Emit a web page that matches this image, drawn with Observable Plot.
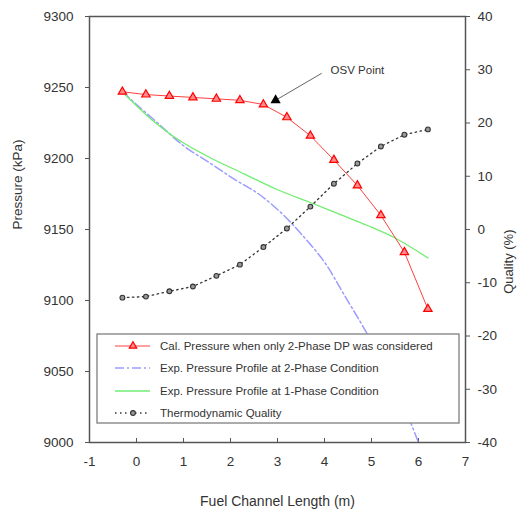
<!DOCTYPE html>
<html><head><meta charset="utf-8">
<script src="https://cdn.jsdelivr.net/npm/d3@7"></script>
<script src="https://cdn.jsdelivr.net/npm/@observablehq/plot@0.6"></script>
<style>
body{margin:0;background:#fff}
#chart{position:relative;width:517px;height:517px}
</style>
</head><body><div id="chart"></div>
<script>
const xTicks = [-1, 0, 1, 2, 3, 4, 5, 6, 7];
const pressureTicks = [9000, 9050, 9100, 9150, 9200, 9250, 9300];
const qualityTicks = [-40, -30, -20, -10, 0, 10, 20, 30, 40];

const calLength = [-0.3, 0.2, 0.7, 1.2, 1.7, 2.2, 2.7, 3.2, 3.7, 4.2, 4.7, 5.2, 5.7, 6.2];
const calPressure = [9247, 9245, 9244, 9243, 9242, 9241, 9238, 9229, 9216, 9199, 9181, 9160, 9134, 9094];
const qualityValues = [-12.8, -12.6, -11.6, -10.7, -8.7, -6.6, -3.3, 0.2, 4.3, 8.6, 12.4, 15.6, 17.8, 18.8];

const exp2Length = [-0.3, 0.0, 0.45, 1.0, 1.6, 2.1, 2.6, 3.1, 3.5, 4.0, 4.4, 4.9, 5.5, 6.0];
const exp2Pressure = [9247, 9238, 9225, 9209, 9196, 9185, 9175, 9161, 9147, 9127, 9105, 9077, 9040, 9000];

const exp1Length = [-0.3, 0.3, 0.9, 1.6, 2.3, 3.0, 3.7, 4.3, 4.9, 5.5, 6.2];
const exp1Pressure = [9247, 9228, 9213, 9200, 9189, 9178, 9169, 9161, 9153, 9144, 9130];

const osvPoint = {length: 2.96, pressure: 9241};
const osvLabel = {length: 4.13, pressure: 9262, text: "OSV Point"};
const osvLineStart = {length: 3.94, pressure: 9260};

const legendLabels = [
  "Cal. Pressure when only 2-Phase DP was considered",
  "Exp. Pressure Profile at 2-Phase Condition",
  "Exp. Pressure Profile at 1-Phase Condition",
  "Thermodynamic Quality"
];

// quality (%) axis [-40, 40] mapped onto pressure axis [9000, 9300]
const q2p = q => 9150 + q * 3.75;
const p2q = p => (p - 9150) / 3.75;

const calData = calLength.map((x, i) => ({x, y: calPressure[i]}));
const qualData = calLength.map((x, i) => ({x, y: q2p(qualityValues[i])}));
const exp2Data = exp2Length.map((x, i) => ({x, y: exp2Pressure[i]}));
const exp1Data = exp1Length.map((x, i) => ({x, y: exp1Pressure[i]}));

const FONT = "Liberation Sans, Arial, sans-serif";
const C_RED = "#ff4040", C_BLUE = "#9c9cff", C_GREEN = "#70ee70", C_TXT = "#333";

const plot = Plot.plot({
  width: 517, height: 517,
  marginLeft: 89, marginRight: 52, marginTop: 16, marginBottom: 75,
  style: {fontFamily: FONT, fontSize: "13.5px", color: C_TXT, background: "#fff"},
  x: {domain: [-1, 7]},
  y: {domain: [9000, 9300]},
  marks: [
    Plot.axisY(pressureTicks, {anchor: "left", tickSize: 4, tickPadding: 12, label: null, tickFormat: d => String(d), stroke: "#555", fontSize: 13.5}),
    Plot.axisY(qualityTicks.map(q2p), {anchor: "right", tickSize: 4, tickPadding: 8, label: null, tickFormat: p => String(Math.round(p2q(p))), stroke: "#555", fontSize: 13.5}),
    Plot.axisX(xTicks, {anchor: "bottom", tickSize: -4, tickPadding: 18, label: null, tickFormat: d => String(d), stroke: "#555", fontSize: 13.5}),
    Plot.text(["Pressure (kPa)"], {text: d => d, frameAnchor: "left", dx: -72, rotate: -90, fontSize: 13.5, fill: C_TXT}),
    Plot.text(["Quality (%)"], {text: d => d, frameAnchor: "right", dx: 43, rotate: -90, fontSize: 13, fill: C_TXT}),
    Plot.text(["Fuel Channel Length (m)"], {text: d => d, frameAnchor: "bottom", dy: 63, fontSize: 14, fill: C_TXT}),

    Plot.line(exp2Data, {x: "x", y: "y", curve: "catmull-rom", stroke: C_BLUE, strokeWidth: 1.5, strokeDasharray: "9,3,2,3"}),
    Plot.line(exp1Data, {x: "x", y: "y", curve: "catmull-rom", stroke: C_GREEN, strokeWidth: 1.3}),
    Plot.line(qualData, {x: "x", y: "y", stroke: "#333", strokeWidth: 1.3, strokeDasharray: "1.5,3.5"}),
    Plot.dot(qualData, {x: "x", y: "y", r: 2.4, fill: "#999", stroke: "#333", strokeWidth: 1.1}),
    Plot.line(calData, {x: "x", y: "y", stroke: C_RED, strokeWidth: 1}),
    Plot.dot(calData, {x: "x", y: "y", symbol: "triangle", r: 3.1, fill: "#ff8a8a", stroke: "#ff0000", strokeWidth: 1.2}),

    Plot.link([osvPoint], {x1: () => osvLineStart.length, y1: () => osvLineStart.pressure, x2: d => d.length, y2: d => d.pressure, stroke: "#666", strokeWidth: 1}),
    Plot.dot([osvPoint], {x: "length", y: "pressure", symbol: "triangle", r: 3.8, fill: "#000", stroke: "none"}),
    Plot.text([osvLabel], {x: "length", y: "pressure", text: "text", textAnchor: "start", fontSize: 11.5, fill: C_TXT}),

    Plot.frame({stroke: "#555", strokeWidth: 1.5})
  ]
});
document.getElementById("chart").appendChild(plot);

// legend inside the plot area
const svg = d3.select(plot);
const lg = svg.append("g").attr("font-family", FONT).attr("font-size", 11.5)
  .attr("fill", C_TXT).attr("text-anchor", "start");
lg.append("rect").attr("x", 97).attr("y", 334).attr("width", 362).attr("height", 89)
  .attr("fill", "#fff").attr("stroke", "#888").attr("stroke-width", 1.4);
const rowY = [346, 368, 391, 413];
legendLabels.forEach((label, i) => {
  const y = rowY[i];
  const ln = lg.append("line").attr("x1", 115).attr("x2", 150).attr("y1", y).attr("y2", y);
  if (i === 0) ln.attr("stroke", C_RED).attr("stroke-width", 1);
  if (i === 1) ln.attr("stroke", C_BLUE).attr("stroke-width", 1.5).attr("stroke-dasharray", "9,3,2,3");
  if (i === 2) ln.attr("stroke", C_GREEN).attr("stroke-width", 1.3);
  if (i === 3) ln.attr("stroke", "#333").attr("stroke-width", 1.3).attr("stroke-dasharray", "1.5,3.5");
  if (i === 0) lg.append("path").attr("d", d3.symbol(d3.symbolTriangle, 24)()).attr("transform", `translate(133,${y})`)
    .attr("fill", "#ff8a8a").attr("stroke", "#ff0000").attr("stroke-width", 1.2);
  if (i === 3) lg.append("circle").attr("cx", 133).attr("cy", y).attr("r", 2.4).attr("fill", "#999").attr("stroke", "#333").attr("stroke-width", 1.1);
  lg.append("text").attr("x", 160).attr("y", y).attr("dy", "0.35em").text(label);
});
</script>
</body></html>
